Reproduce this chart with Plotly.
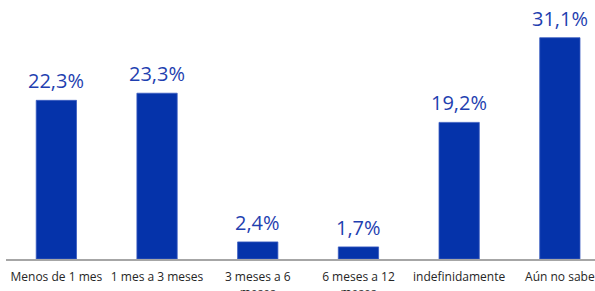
import plotly.graph_objects as go

categories = ["Menos de 1 mes", "1 mes a 3 meses", "3 meses a 6<br>meses",
              "6 meses a 12<br>meses", "indefinidamente", "Aún no sabe"]
values = [22.3, 23.3, 2.4, 1.7, 19.2, 31.1]
labels = ["22,3%", "23,3%", "2,4%", "1,7%", "19,2%", "31,1%"]

x_idx = list(range(len(categories)))

fig = go.Figure()
fig.add_trace(go.Bar(
    x=x_idx, y=values, width=0.4,
    marker=dict(color="#0533AA", line=dict(color="#3A5CC0", width=0.8)),
    hoverinfo="skip", cliponaxis=False,
))

for xi, v, lab in zip(x_idx, values, labels):
    fig.add_annotation(x=xi, y=v, text=lab, showarrow=False,
                       yanchor="bottom", yshift=4,
                       font=dict(family="Open Sans", size=20, color="#1F3FB0"))

fig.update_layout(
    width=595, height=291,
    margin=dict(l=6, r=0, t=0, b=32, autoexpand=False),
    paper_bgcolor="white", plot_bgcolor="white",
    showlegend=False,
    bargap=0.6,
)
fig.update_xaxes(
    tickmode="array", tickvals=x_idx, ticktext=categories,
    range=[-0.5, 5.349], automargin=False,
    showline=True, linecolor="#A6A6A6", linewidth=1.5,
    showgrid=False, zeroline=False, ticks="",
    tickfont=dict(family="Open Sans", size=12, color="#262626"),
    tickangle=0, ticklabelstandoff=6,
)
fig.update_yaxes(range=[0, 36.4], visible=False, showgrid=False, zeroline=False,
                 automargin=False)

fig.write_html("out.html", config={"displayModeBar": False},
               post_script="document.body.style.margin='0';document.body.style.overflow='hidden';")
